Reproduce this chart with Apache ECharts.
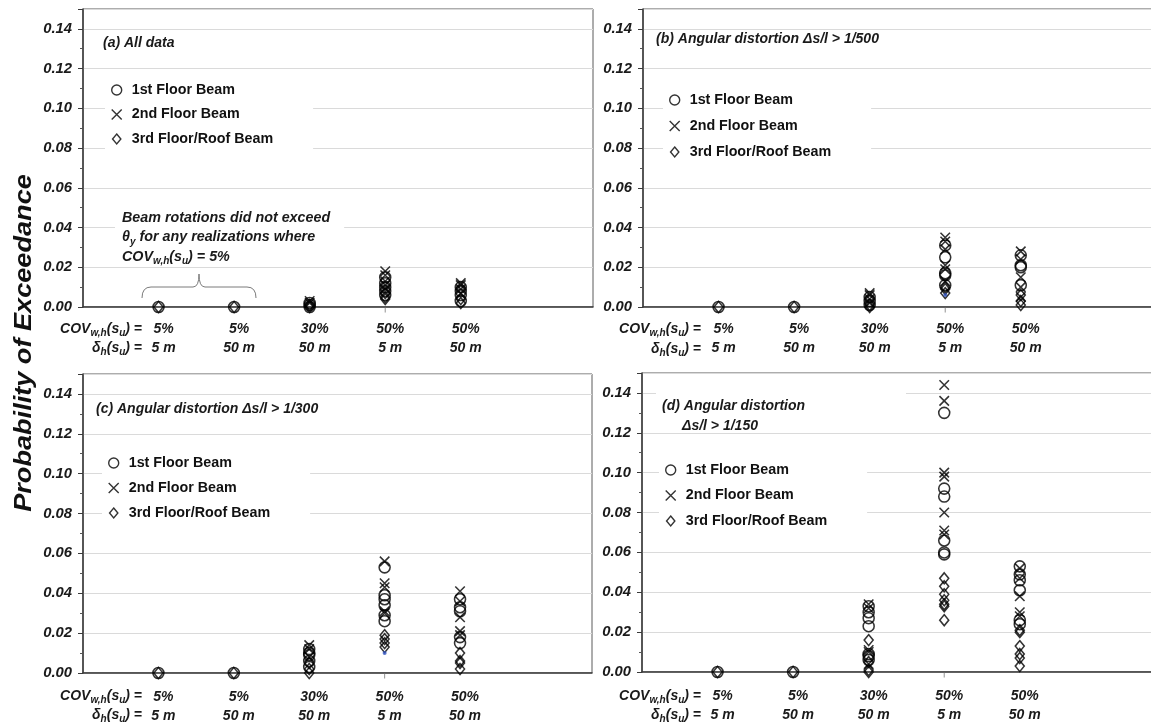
<!DOCTYPE html>
<html>
<head>
<meta charset="utf-8">
<script src="https://cdn.jsdelivr.net/npm/echarts@6/dist/echarts.min.js"></script>
<style>
  html, body { margin: 0; padding: 0; background: #ffffff; }
  #chart { width: 1151px; height: 726px; }
</style>
</head>
<body>
<div id="chart"></div>
<script>
// ---- Category / tick labels ----
const covLabels = ['5%', '5%', '30%', '50%', '50%'];
const depthLabels = ['5 m', '50 m', '50 m', '5 m', '50 m'];
const beamNames = ['1st Floor Beam', '2nd Floor Beam', '3rd Floor/Roof Beam'];

// ---- Probability of exceedance per realization, one list per category ----
// (a) All data
const allFloor1 = [[0], [0], [0.002, 0.001, 0], [0.015, 0.012, 0.010, 0.008, 0.006], [0.010, 0.008, 0.006, 0.003]];
const allFloor2 = [[], [], [0.003, 0.002], [0.018, 0.016, 0.013, 0.011, 0.009], [0.012, 0.011, 0.009, 0.007]];
const allFloor3 = [[0], [0], [0.001, 0], [0.007, 0.005, 0.004], [0.004, 0.002]];

// (b) Angular distortion > 1/500
const ad500Floor1 = [[0], [0], [0.005, 0.003, 0.001], [0.031, 0.025, 0.017, 0.016, 0.011], [0.026, 0.021, 0.020, 0.011]];
const ad500Floor2 = [[], [], [0.007, 0.006, 0.004, 0.002], [0.035, 0.033, 0.029, 0.021, 0.019, 0.013], [0.028, 0.024, 0.015, 0.010, 0.005]];
const ad500Floor3 = [[0], [0], [0.001, 0], [0.010, 0.009, 0.007], [0.006, 0.003, 0.001]];
const ad500Extra = [[], [], [], [0.006], []];

// (c) Angular distortion > 1/300
const ad300Floor1 = [[0], [0], [0.012, 0.010, 0.009, 0.006, 0.003], [0.053, 0.039, 0.037, 0.034, 0.029, 0.026], [0.037, 0.033, 0.031, 0.018, 0.015]];
const ad300Floor2 = [[], [], [0.014, 0.012, 0.008], [0.056, 0.045, 0.043, 0.031, 0.030], [0.041, 0.036, 0.028, 0.021, 0.019]];
const ad300Floor3 = [[0], [0], [0.005, 0.002, 0], [0.019, 0.017, 0.015, 0.013], [0.010, 0.006, 0.005, 0.002]];
const ad300Extra = [[], [], [], [0.010], []];

// (d) Angular distortion > 1/150
const ad150Floor1 = [[0], [0], [0.033, 0.030, 0.027, 0.023, 0.009, 0.008, 0.006], [0.130, 0.092, 0.088, 0.066, 0.060, 0.059], [0.053, 0.049, 0.046, 0.041, 0.026, 0.024]];
const ad150Floor2 = [[], [], [0.034, 0.032, 0.011, 0.010, 0.004], [0.144, 0.136, 0.100, 0.098, 0.080, 0.071, 0.069], [0.052, 0.047, 0.038, 0.030, 0.028]];
const ad150Floor3 = [[0], [0], [0.016, 0.005, 0.001, 0], [0.047, 0.043, 0.039, 0.036, 0.034, 0.033, 0.026], [0.021, 0.020, 0.013, 0.009, 0.007, 0.003]];

// single axis tick mark under the 50% / 5 m group
const axisMarkX = [4];

const panels = [
  { beams: [allFloor1, allFloor2, allFloor3], extra: null },
  { beams: [ad500Floor1, ad500Floor2, ad500Floor3], extra: ad500Extra },
  { beams: [ad300Floor1, ad300Floor2, ad300Floor3], extra: ad300Extra },
  { beams: [ad150Floor1, ad150Floor2, ad150Floor3], extra: null }
];

// ---- Layout ----
const FONT = "'Liberation Sans', Arial, Helvetica, sans-serif";
const grids = [
  { left: 83, top: 9, width: 510, height: 298 },
  { left: 643, top: 9, width: 510, height: 298 },
  { left: 83, top: 374, width: 509, height: 299 },
  { left: 642, top: 373, width: 510, height: 299 }
];
const legendPos = [
  { left: 105, top: 76, itemGap: 8.5 },
  { left: 663, top: 86, itemGap: 10 },
  { left: 102, top: 449, itemGap: 9 },
  { left: 659, top: 456, itemGap: 9.5 }
];

const symbols = ['circle', 'path://M0,0L10,10M10,0L0,10', 'path://M5,0L10,6L5,12L0,6Z'];
const symbolSizes = [11, 9.5, [9, 11]];
const markStyle = { color: 'rgba(0,0,0,0)', borderColor: '#000000', borderWidth: 1.55 };

function toPoints(lists) {
  const pts = [];
  lists.forEach((vals, i) => vals.forEach(v => pts.push([i + 1, v])));
  return pts;
}

const xAxes = grids.map((g, i) => ({
  type: 'value', gridIndex: i, min: 0, max: 6.75, interval: 1,
  splitLine: { show: false },
  axisLine: { show: true, onZero: false, lineStyle: { color: '#3a3a3a', width: 1.5 } },
  axisTick: { show: false },
  axisLabel: {
    fontFamily: FONT, fontWeight: 'bold', fontStyle: 'italic', color: '#1a1a1a',
    fontSize: 14, lineHeight: 19, margin: i < 2 ? 13 : 14.5, padding: [0, 0, 0, 10],
    formatter: function (v) {
      const k = Math.round(v);
      if (Math.abs(v - k) > 1e-6 || k < 1 || k > covLabels.length) return '';
      return covLabels[k - 1] + '\n' + depthLabels[k - 1];
    }
  }
}));

const yAxes = grids.map((g, i) => ({
  type: 'value', gridIndex: i, min: 0, max: 0.15, interval: 0.02,
  axisLine: { show: true, onZero: false, lineStyle: { color: '#3a3a3a', width: 1.5 } },
  axisTick: { show: true, length: 5, lineStyle: { color: '#3a3a3a' } },
  minorTick: { show: true, splitNumber: 2, length: 3, lineStyle: { color: '#555555' } },
  splitLine: { show: true, lineStyle: { color: '#dadada', width: 1.2 } },
  axisLabel: {
    fontFamily: FONT, fontWeight: 'bold', fontStyle: 'italic', color: '#1a1a1a',
    fontSize: 14.8, margin: 11,
    formatter: function (v) { return v > 0.145 ? '' : v.toFixed(2); }
  }
}));

const series = [];
panels.forEach((p, pi) => {
  p.beams.forEach((lists, bi) => {
    series.push({
      type: 'scatter', name: beamNames[bi], xAxisIndex: pi, yAxisIndex: pi,
      symbol: symbols[bi], symbolSize: symbolSizes[bi],
      itemStyle: markStyle, silent: true, z: 3 - bi,
      data: toPoints(lists)
    });
  });
  if (p.extra) {
    series.push({
      type: 'scatter', name: 'extra', xAxisIndex: pi, yAxisIndex: pi,
      symbol: 'circle', symbolSize: 4, itemStyle: { color: '#2f52c0' }, silent: true, z: 1,
      data: toPoints(p.extra)
    });
  }
  series.push({
    type: 'scatter', name: 'tick', xAxisIndex: pi, yAxisIndex: pi,
    symbol: 'rect', symbolSize: [1, 5], symbolOffset: [0, 3],
    itemStyle: { color: '#777777' }, silent: true, z: 0,
    data: axisMarkX.map(x => [x, 0])
  });
});

const legends = legendPos.map(l => ({
  orient: 'vertical', left: l.left, top: l.top, itemGap: l.itemGap,
  data: beamNames, itemWidth: 20, itemHeight: 10,
  backgroundColor: '#ffffff', padding: [6, 40, 6, 6], selectedMode: false,
  itemStyle: { color: 'rgba(0,0,0,0)', borderColor: '#000000', borderWidth: 1.4 },
  textStyle: { fontFamily: FONT, fontWeight: 'bold', fontSize: 14.3, color: '#111111', lineHeight: 16 }
}));

// rich text pieces for subscripts
const rich = {
  m: { fontFamily: FONT, fontWeight: 'bold', fontStyle: 'italic', fontSize: 14, lineHeight: 19, fill: '#1a1a1a' },
  s: { fontFamily: FONT, fontWeight: 'bold', fontStyle: 'italic', fontSize: 10, lineHeight: 8, verticalAlign: 'bottom', fill: '#1a1a1a' }
};
const covCaption = '{m|COV}{s|w,h}{m|(s}{s|u}{m|) =}';
const depthCaption = '{m|δ}{s|h}{m|(s}{s|u}{m|) =}';
const captionPos = [[142, 329, 348], [701, 329, 349], [142, 696, 715], [701, 696, 715]];

const graphics = [];
captionPos.forEach(function (c) {
  graphics.push({ type: 'text', x: c[0], y: c[1], z: 5, style: { text: covCaption, rich: rich, align: 'right', verticalAlign: 'middle' } });
  graphics.push({ type: 'text', x: c[0], y: c[2], z: 5, style: { text: depthCaption, rich: rich, align: 'right', verticalAlign: 'middle' } });
});

const titleStyle = { fontFamily: FONT, fontWeight: 'bold', fontStyle: 'italic', fontSize: 14, fill: '#1a1a1a', verticalAlign: 'middle', align: 'left' };
const braceStyle = { fill: 'none', stroke: '#7a7a7a', lineWidth: 1 };
graphics.push(
  { type: 'rect', z: 4, shape: { x: 656, y: 384, width: 250, height: 44 }, style: { fill: '#ffffff' } },
  { type: 'text', x: 103, y: 43, z: 5, style: Object.assign({}, titleStyle, { text: '(a) All data' }) },
  { type: 'text', x: 656, y: 39, z: 5, style: Object.assign({}, titleStyle, { text: '(b) Angular distortion Δs/l > 1/500' }) },
  { type: 'text', x: 96, y: 409, z: 5, style: Object.assign({}, titleStyle, { text: '(c) Angular distortion Δs/l > 1/300' }) },
  { type: 'text', x: 662, y: 406, z: 5, style: Object.assign({}, titleStyle, { text: '(d) Angular distortion' }) },
  { type: 'text', x: 682, y: 426, z: 5, style: Object.assign({}, titleStyle, { text: 'Δs/l > 1/150' }) },
  // note for the COV = 5% cases
  {
    type: 'text', x: 115, y: 208, z: 5,
    style: {
      text: '{m|Beam rotations did not exceed}\n{m|θ}{s|y}{m| for any realizations where}\n{m|COV}{s|w,h}{m|(s}{s|u}{m|) = 5%}',
      rich: {
        m: Object.assign({}, rich.m, { lineHeight: 19.5, fontSize: 14.3 }),
        s: Object.assign({}, rich.s, { fontSize: 10 })
      },
      backgroundColor: '#ffffff', padding: [0, 14, 0, 7], align: 'left', verticalAlign: 'top'
    }
  },
  // curly brace spanning the two COV = 5% groups
  { type: 'bezierCurve', z: 5, shape: { x1: 142, y1: 298, cpx1: 142, cpy1: 287, x2: 151, y2: 287 }, style: braceStyle },
  { type: 'line', z: 5, shape: { x1: 151, y1: 287, x2: 193, y2: 287 }, style: braceStyle },
  { type: 'bezierCurve', z: 5, shape: { x1: 193, y1: 287, cpx1: 199, cpy1: 287, x2: 199, y2: 274 }, style: braceStyle },
  { type: 'bezierCurve', z: 5, shape: { x1: 199, y1: 274, cpx1: 199, cpy1: 287, x2: 205, y2: 287 }, style: braceStyle },
  { type: 'line', z: 5, shape: { x1: 205, y1: 287, x2: 247, y2: 287 }, style: braceStyle },
  { type: 'bezierCurve', z: 5, shape: { x1: 247, y1: 287, cpx1: 256, cpy1: 287, x2: 256, y2: 298 }, style: braceStyle },
  // shared y-axis title
  {
    type: 'text', x: 24, y: 343, rotation: Math.PI / 2, scaleX: 1.13, z: 5,
    style: { text: 'Probability of Exceedance', fontFamily: FONT, fontStyle: 'italic', fontWeight: 'bold', fontSize: 24, fill: '#111111', align: 'center', verticalAlign: 'middle' }
  }
);

const chart = echarts.init(document.getElementById('chart'), null, { renderer: 'canvas' });
chart.setOption({
  backgroundColor: '#ffffff',
  animation: false,
  grid: grids.map(g => Object.assign({}, g, { show: true, borderColor: '#5a5a5a', borderWidth: 1, backgroundColor: 'transparent', outerBoundsMode: 'none' })),
  xAxis: xAxes,
  yAxis: yAxes,
  legend: legends,
  series: series,
  graphic: graphics
});
</script>
</body>
</html>
